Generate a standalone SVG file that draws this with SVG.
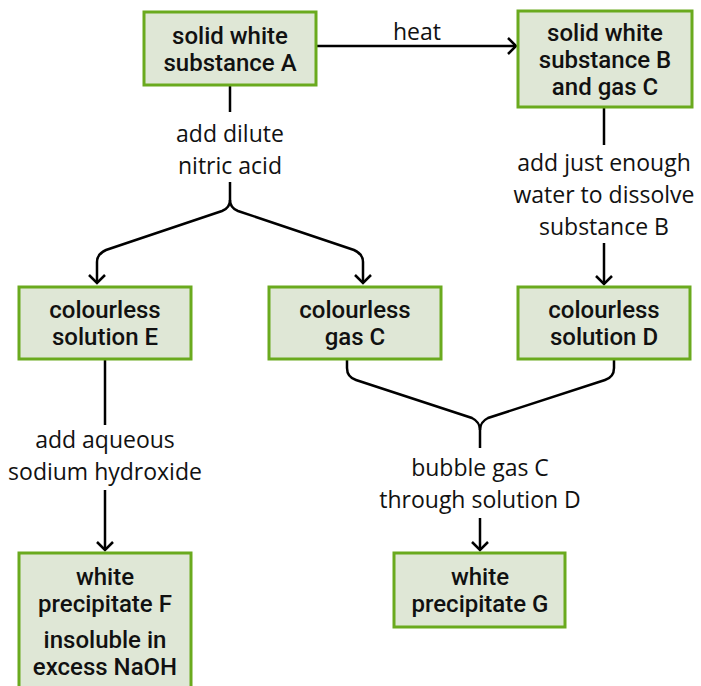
<svg xmlns="http://www.w3.org/2000/svg" width="701" height="686" viewBox="0 0 701 686">
<defs>
<marker id="ah" viewBox="-10 -10 12 20" markerWidth="12" markerHeight="20" refX="0" refY="0" orient="auto" markerUnits="userSpaceOnUse">
<path d="M-8,-8 L0,0 L-8,8" fill="none" stroke="#000" stroke-width="2.5"/>
</marker>
<style>
.box{fill:#dfe7d6;stroke:#6aaa1e;stroke-width:3}
.bt{font-family:Roboto,"Noto Sans",sans-serif;font-weight:500;font-size:24px;fill:#111;text-anchor:middle;dominant-baseline:central}
.lb{font-family:"Open Sans","Noto Sans",sans-serif;font-weight:400;font-size:23px;fill:#111;text-anchor:middle;dominant-baseline:central}
.ln{fill:none;stroke:#000;stroke-width:2.5}
</style>
</defs>
<rect width="701" height="686" fill="#fff"/>
<g id="connectors">
<path class="ln" d="M316,46 H516" marker-end="url(#ah)"/>
<path class="ln" d="M230,86 V112"/>
<path class="ln" d="M230,182 V200 Q230,208 222,211 L106,250 Q97,254 97,262 V283" marker-end="url(#ah)"/>
<path class="ln" d="M230,200 Q230,208 238,211 L354,250 Q363,254 363,262 V283" marker-end="url(#ah)"/>
<path class="ln" d="M604,108 V145"/>
<path class="ln" d="M604,243 V284" marker-end="url(#ah)"/>
<path class="ln" d="M105,360 V425"/>
<path class="ln" d="M105,490 V550" marker-end="url(#ah)"/>
<path class="ln" d="M347,360 V368 Q347,377 356,380 L472,418 Q480,422 480,430 V448"/>
<path class="ln" d="M614,360 V368 Q614,377 605,380 L488,418 Q480,422 480,430"/>
<path class="ln" d="M480,518 V550" marker-end="url(#ah)"/>
<text class="lb" x="417" y="31">heat</text>
<text class="lb" x="230" y="133">add dilute</text>
<text class="lb" x="230" y="165">nitric acid</text>
<text class="lb" x="604" y="162">add just enough</text>
<text class="lb" x="604" y="194">water to dissolve</text>
<text class="lb" x="604" y="226">substance B</text>
<text class="lb" x="105" y="439">add aqueous</text>
<text class="lb" x="105" y="471">sodium hydroxide</text>
<text class="lb" x="480" y="467">bubble gas C</text>
<text class="lb" x="480" y="499">through solution D</text>
</g>
<g id="nodeA">
<rect class="box" x="144" y="12" width="172" height="73"/>
<text class="bt" x="230" y="36">solid white</text>
<text class="bt" x="230" y="63">substance A</text>
</g>
<g id="nodeB">
<rect class="box" x="518" y="11" width="174" height="96"/>
<text class="bt" x="605" y="33">solid white</text>
<text class="bt" x="605" y="60">substance B</text>
<text class="bt" x="605" y="87">and gas C</text>
</g>
<g id="nodeE">
<rect class="box" x="19" y="287" width="172" height="72"/>
<text class="bt" x="105" y="310">colourless</text>
<text class="bt" x="105" y="337">solution E</text>
</g>
<g id="nodeGasC">
<rect class="box" x="269" y="287" width="172" height="72"/>
<text class="bt" x="355" y="310">colourless</text>
<text class="bt" x="355" y="337">gas C</text>
</g>
<g id="nodeD">
<rect class="box" x="518" y="287" width="172" height="72"/>
<text class="bt" x="604" y="310">colourless</text>
<text class="bt" x="604" y="337">solution D</text>
</g>
<g id="nodeF">
<rect class="box" x="19" y="553" width="172" height="140"/>
<text class="bt" x="105" y="577">white</text>
<text class="bt" x="105" y="604">precipitate F</text>
<text class="bt" x="105" y="640">insoluble in</text>
<text class="bt" x="105" y="667">excess NaOH</text>
</g>
<g id="nodeG">
<rect class="box" x="394" y="553" width="171" height="74"/>
<text class="bt" x="480" y="577">white</text>
<text class="bt" x="480" y="604">precipitate G</text>
</g>
</svg>
